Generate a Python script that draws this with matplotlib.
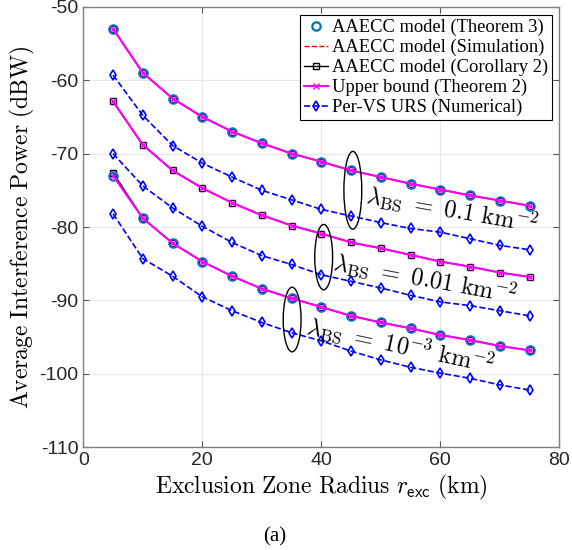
import matplotlib
matplotlib.use('Agg')
from matplotlib import pyplot as plt
from matplotlib.patches import Ellipse
import numpy as np

plt.rcParams['mathtext.fontset'] = 'cm'

r_exc = [5, 10, 15, 20, 25, 30, 35, 40, 45, 50, 55, 60, 65, 70, 75]

# AAECC model, one row per BS density (0.1, 0.01, 1e-3 per km^2)
aaecc_01 = [-53.0, -59.0, -62.5, -65.0, -67.0, -68.6, -70.0, -71.1, -72.3,
            -73.2, -74.1, -74.9, -75.7, -76.4, -77.1]
aaecc_001 = [-62.9, -68.8, -72.3, -74.7, -76.7, -78.4, -79.8, -80.9, -82.1,
             -82.9, -83.8, -84.7, -85.4, -86.2, -86.8]
aaecc_0001 = [-73.0, -78.8, -82.2, -84.7, -86.7, -88.4, -89.7, -90.9, -92.1,
              -93.0, -93.8, -94.7, -95.4, -96.2, -96.8]
# corollary 2 sits a hair above the others at the first point
corollary_0001 = [-72.6] + aaecc_0001[1:]

# per-VS URS (numerical)
urs_01 = [-59.3, -64.8, -68.9, -71.3, -73.2, -75.0, -76.3, -77.6, -78.5,
          -79.4, -80.2, -80.7, -81.6, -82.5, -83.1]
urs_001 = [-70.0, -74.4, -77.4, -79.9, -82.1, -83.9, -85.1, -86.5, -87.4,
           -88.3, -89.3, -90.2, -90.7, -91.4, -92.1]
urs_0001 = [-78.2, -84.3, -86.7, -89.5, -91.4, -93.0, -94.4, -95.5, -96.9,
            -98.1, -99.1, -99.9, -100.6, -101.5, -102.2]

labels = [r'$\lambda_{\rm BS}\ =\ 0.1\ {\rm km}^{-2}$',
          r'$\lambda_{\rm BS}\ =\ 0.01\ {\rm km}^{-2}$',
          r'$\lambda_{\rm BS}\ =\ 10^{-3}\ {\rm km}^{-2}$']

blue_c = '#0072BD'

fig = plt.figure(figsize=(5.72, 5.5), dpi=100)
ax = fig.add_axes([0.1456, 0.1867, 0.8322, 0.8011])

groups = [(aaecc_01, aaecc_01, urs_01, True),
          (aaecc_001, aaecc_001, urs_001, False),
          (aaecc_0001, corollary_0001, urs_0001, True)]

for k, (model, cor, urs, show_circ) in enumerate(groups):
    lab = (k == 0)
    ax.plot(r_exc, cor, '-', color='k', marker='s', ms=4, mfc='none', mew=1.0,
            lw=1.0, label='AAECC model (Corollary 2)' if lab else None, zorder=3)
    if show_circ:
        ax.plot(r_exc, model, 'o', color=blue_c, ms=6, mfc='none', mew=1.6,
                label='AAECC model (Theorem 3)' if lab else None, zorder=4)
    ax.plot(r_exc, model, '--', color='r', lw=1.0,
            label='AAECC model (Simulation)' if lab else None, zorder=4)
    ax.plot(r_exc, model, '-', color='#ff00ff', marker='x', ms=4, mew=1.0,
            lw=1.5, label='Upper bound (Theorem 2)' if lab else None, zorder=5)
    ax.plot(r_exc, urs, '--', color='#0000ff', marker='d', ms=5, mfc='none',
            mew=1.2, lw=1.2, label='Per-VS URS (Numerical)' if lab else None,
            zorder=3)

# ellipses marking each density group
for cx, cy, h in [(45.3, -75.0, 10.6), (40.4, -84.1, 8.9), (35.1, -92.6, 8.8)]:
    ax.add_patch(Ellipse((cx, cy), 3.0, h, fill=False, ec='k', lw=1.0,
                         zorder=6))

for (tx, ty, rot), lab in zip([(62.0, -77.6, -10), (57.4, -86.9, -10.5),
                               (53.4, -96.0, -12)], labels):
    ax.text(tx, ty, lab, fontsize=17.5, rotation=rot, ha='center',
            va='center', rotation_mode='anchor')

ax.set_xlim(0, 80)
ax.set_ylim(-110, -50)
ax.set_xticks([0, 20, 40, 60, 80])
ax.set_yticks(np.arange(-110, -49, 10))
ax.set_yticklabels([str(v) for v in range(-110, -49, 10)])
ax.grid(True, color='#e6e6e6', lw=0.8)
ax.set_axisbelow(True)
ax.tick_params(direction='in', top=True, right=True, length=4,
               labelsize=14, color='#555555')
for lbl in ax.get_xticklabels() + ax.get_yticklabels():
    lbl.set_fontfamily('Liberation Sans')
    lbl.set_color('#262626')
for sp in ax.spines.values():
    sp.set_color('#808080')
    sp.set_linewidth(1.0)

ax.set_xlabel(r'$\mathrm{Exclusion\ Zone\ Radius}\ r_{\mathsf{exc}}\ \mathrm{(km)}$',
              fontsize=17, labelpad=3)
ax.set_ylabel(r'$\mathrm{Average\ Interference\ Power\ (dBW)}$',
              fontsize=17, labelpad=2)

handles, labs = ax.get_legend_handles_labels()
order = ['AAECC model (Theorem 3)', 'AAECC model (Simulation)',
         'AAECC model (Corollary 2)', 'Upper bound (Theorem 2)',
         'Per-VS URS (Numerical)']
hmap = dict(zip(labs, handles))
leg = ax.legend([hmap[o] for o in order], order, loc='upper right',
                bbox_to_anchor=(0.9847, 0.981), borderaxespad=0,
                prop={'family': 'Liberation Serif', 'size': 13.3},
                frameon=True, fancybox=False, framealpha=1, edgecolor='k',
                handlelength=1.3, handletextpad=0.25, labelspacing=0.15,
                borderpad=0.2)
leg.get_frame().set_linewidth(0.8)

fig.text(0.48, 1 - 537 / 550, '(a)', ha='center', va='center',
         fontsize=15, family='Liberation Serif')

fig.savefig('out.png', dpi=100)
